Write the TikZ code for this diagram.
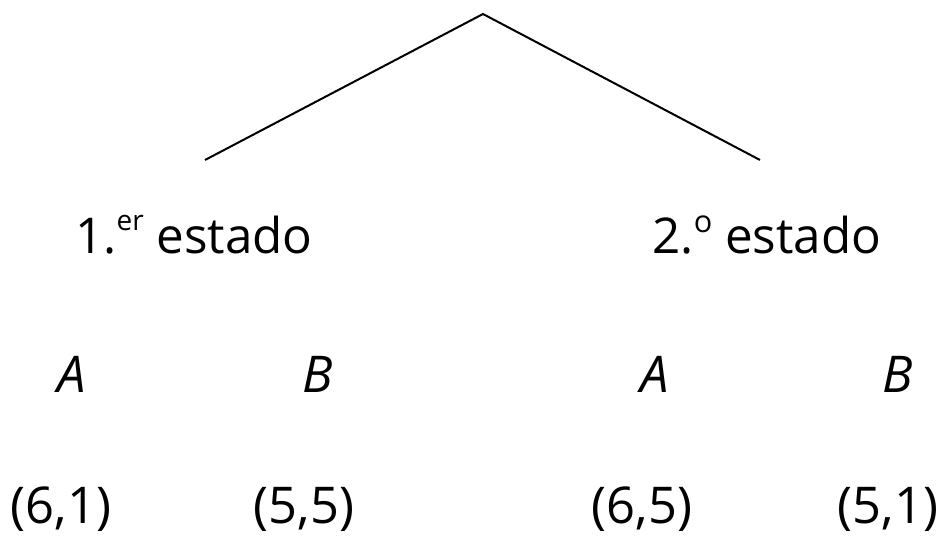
\documentclass[tikz,border=0pt]{standalone}
\usepackage{fontspec}
\setmainfont{Open Sans}
\begin{document}
\begin{tikzpicture}[x=0.75pt,y=-0.75pt,
  branch/.style={line width=1.5pt},
  label/.style={font=\fontsize{37}{44}\selectfont, anchor=base, inner sep=0pt},
  player/.style={font=\fontsize{38}{44}\selectfont\itshape, anchor=base, inner sep=0pt},
  payoff/.style={font=\fontsize{38}{44}\selectfont, anchor=base, inner sep=0pt}]
\useasboundingbox (0,0) rectangle (945,535);
% game tree root and its two branches
\coordinate (root) at (483,14);
\coordinate (left) at (205,160);
\coordinate (right) at (760,160);
\draw[branch] (left) -- (root) -- (right);
% states
\node[label] (s1) at (194,253) {1.\raisebox{0.45em}{\fontsize{21}{24}\selectfont er} estado};
\node[label] (s2) at (767,253) {2.\raisebox{0.42em}{\fontsize{23}{24}\selectfont o} estado};
% actions
\node[player] (a1) at (72,392) {A};
\node[player] (b1) at (318,392) {B};
\node[player] (a2) at (655,392) {A};
\node[player] (b2) at (898,392) {B};
% payoffs
\node[payoff] (p1) at (61,523) {(6,1)};
\node[payoff] (p2) at (304,523) {(5,5)};
\node[payoff] (p3) at (642,523) {(6,5)};
\node[payoff] (p4) at (888,523) {(5,1)};
\end{tikzpicture}
\end{document}
